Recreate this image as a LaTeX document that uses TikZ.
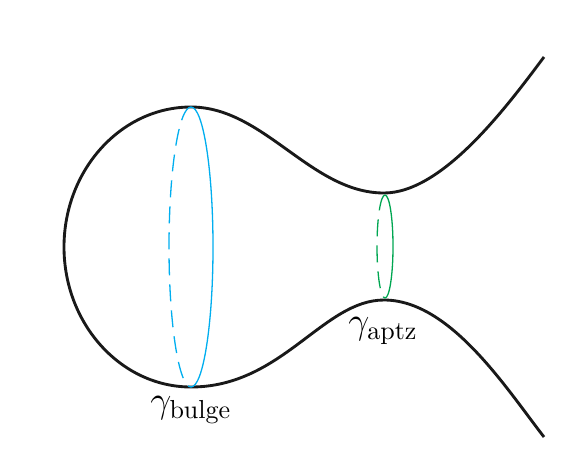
\documentclass[tikz,border=0pt]{standalone}
\usepackage{amsmath}
\usepackage{tikz}
\definecolor{bulgeblue}{RGB}{0,174,239}
\definecolor{aptzgreen}{RGB}{0,166,81}

\begin{document}
\begin{tikzpicture}[x=0.3843pt,y=0.3843pt,
  wall/.style={line width=1.1pt,black!90},
  belt/.style={line width=0.5pt},
  hidden/.style={belt,dash pattern=on 6.5pt off 3.5pt},
  every node/.style={font=\Large,inner sep=0pt}]
  \useasboundingbox (0,0) rectangle (575,454);
  \coordinate (ru) at (544,397);
  \coordinate (nt) at (384,261);
  \coordinate (bt) at (191,347);
  \coordinate (lf) at (64,207);
  \coordinate (bb) at (191,67);
  \coordinate (nb) at (384,154);
  \coordinate (rd) at (544,17);
  \coordinate (gt) at (385,259);
  \coordinate (gb) at (385,156);
  \draw[wall] (ru) .. controls (508,349) and (443,261) .. (nt)
     .. controls (311,261) and (264,347) .. (bt)
     .. controls (121,347) and (64,284) .. (lf)
     .. controls (64,130) and (121,67) .. (bb)
     .. controls (282,67) and (323,154) .. (nb)
     .. controls (450,154) and (506,66) .. (rd);
  \draw[belt,bulgeblue] (bt) arc[start angle=90,end angle=-90,x radius=22,y radius=140];
  \draw[hidden,bulgeblue] (bt) arc[start angle=90,end angle=270,x radius=22,y radius=140];
  \draw[belt,aptzgreen] (gt) arc[start angle=90,end angle=-90,x radius=8,y radius=51.5];
  \draw[hidden,aptzgreen] (gt) arc[start angle=90,end angle=270,x radius=8,y radius=51.5];
  \node (gbulge) at (191,44) {$\gamma_{\text{bulge}}$};
  \node (gaptz) at (383,123) {$\gamma_{\text{aptz}}$};
\end{tikzpicture}
\end{document}
